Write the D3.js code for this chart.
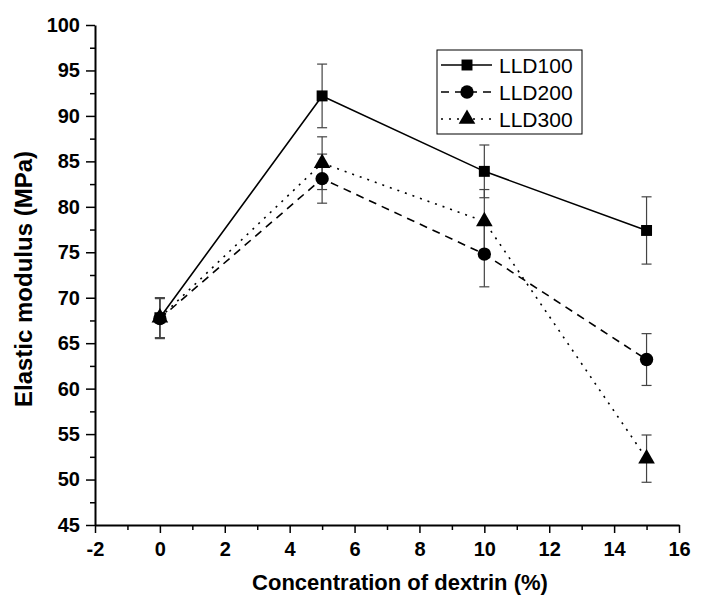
<!DOCTYPE html>
<html>
<head>
<meta charset="utf-8">
<script src="https://cdn.jsdelivr.net/npm/d3@7"></script>
<style>
  body { margin: 0; background: #fff; }
  text { font-family: "Liberation Sans", Arial, sans-serif; }
</style>
</head>
<body>
<div id="chart"></div>
<script>
// Datos
const concentration = [0, 5, 10, 15];
const seriesNames = ["LLD100", "LLD200", "LLD300"];
const lld100 = [67.8, 92.2, 83.9, 77.4];
const lld100Err = [2.2, 3.5, 2.9, 3.7];
const lld200 = [67.7, 83.1, 74.8, 63.2];
const lld200Err = [2.2, 2.7, 3.6, 2.85];
const lld300 = [67.8, 84.8, 78.4, 52.3];
const lld300Err = [2.2, 2.9, 3.5, 2.6];
const xTicks = [-2, 0, 2, 4, 6, 8, 10, 12, 14, 16];
const yTicks = [45, 50, 55, 60, 65, 70, 75, 80, 85, 90, 95, 100];

const W = 702, H = 598;
const margin = { top: 25, right: 23, bottom: 73, left: 95 };
const width = W - margin.left - margin.right;
const height = H - margin.top - margin.bottom;

const x = d3.scaleLinear().domain([-2, 16]).range([0, width]);
const y = d3.scaleLinear().domain([45, 100]).range([height, 0]);

const svg = d3.select("#chart").append("svg")
  .attr("width", W).attr("height", H);
const g = svg.append("g")
  .attr("transform", `translate(${margin.left},${margin.top})`);

// Ejes: ticks menores
g.append("g")
  .attr("transform", `translate(0,${height})`)
  .call(d3.axisBottom(x).tickValues(d3.range(-1, 17, 2)).tickSize(5).tickFormat(""))
  .call(a => a.select(".domain").remove())
  .selectAll("line").attr("stroke-width", 1.5);
g.append("g")
  .call(d3.axisLeft(y).tickValues(d3.range(47.5, 100, 5)).tickSize(5).tickFormat(""))
  .call(a => a.select(".domain").remove())
  .selectAll("line").attr("stroke-width", 1.5);

// Ejes principales (guion simple como en el original)
const xAxis = g.append("g")
  .attr("transform", `translate(0,${height})`)
  .call(d3.axisBottom(x).tickValues(xTicks).tickFormat(d => String(d))
    .tickSize(8).tickSizeOuter(0).tickPadding(9));
const yAxis = g.append("g")
  .call(d3.axisLeft(y).tickValues(yTicks).tickFormat(d => String(d))
    .tickSize(9).tickSizeOuter(0).tickPadding(6));
[xAxis, yAxis].forEach(a => {
  a.select(".domain").attr("stroke-width", 2);
  a.selectAll(".tick line").attr("stroke-width", 1.5);
  a.selectAll("text")
    .attr("font-size", 20).attr("font-weight", "bold")
    .attr("font-family", "'Liberation Sans', Arial, sans-serif")
    .attr("fill", "#000");
});

// Etiquetas de ejes
svg.append("text")
  .attr("x", 400).attr("y", 590)
  .attr("text-anchor", "middle")
  .attr("font-size", 22).attr("font-weight", "bold")
  .text("Concentration of dextrin (%)");
svg.append("text")
  .attr("transform", `translate(32,279) rotate(-90)`)
  .attr("text-anchor", "middle")
  .attr("font-size", 24).attr("font-weight", "bold")
  .text("Elastic modulus (MPa)");

const series = [
  { name: seriesNames[0], values: lld100, err: lld100Err, dash: null, symbol: d3.symbolSquare, size: 120 },
  { name: seriesNames[1], values: lld200, err: lld200Err, dash: "8,6", symbol: d3.symbolCircle, size: 140 },
  { name: seriesNames[2], values: lld300, err: lld300Err, dash: "2,6", symbol: d3.symbolTriangle, size: 120 }
];

// Barras de error
series.forEach(s => {
  const eg = g.append("g").attr("stroke", "#444").attr("stroke-width", 1.2);
  concentration.forEach((c, i) => {
    const cx = x(c);
    const lo = y(s.values[i] - s.err[i]);
    const hi = y(s.values[i] + s.err[i]);
    eg.append("line").attr("x1", cx).attr("x2", cx).attr("y1", lo).attr("y2", hi);
    eg.append("line").attr("x1", cx - 5).attr("x2", cx + 5).attr("y1", lo).attr("y2", lo);
    eg.append("line").attr("x1", cx - 5).attr("x2", cx + 5).attr("y1", hi).attr("y2", hi);
  });
});

// Líneas
const line = d3.line().x((d, i) => x(concentration[i])).y(d => y(d));
series.forEach(s => {
  g.append("path")
    .datum(s.values)
    .attr("fill", "none")
    .attr("stroke", "#000")
    .attr("stroke-width", 1.6)
    .attr("stroke-dasharray", s.dash)
    .attr("d", line);
});

// Marcadores
series.forEach(s => {
  g.selectAll(null)
    .data(s.values)
    .enter().append("path")
    .attr("d", d3.symbol().type(s.symbol).size(s.size))
    .attr("transform", (d, i) => `translate(${x(concentration[i])},${y(d)})`)
    .attr("fill", "#000");
});

// Leyenda
const lg = svg.append("g").attr("transform", "translate(437,50)");
lg.append("rect")
  .attr("width", 145).attr("height", 84)
  .attr("fill", "#fff").attr("stroke", "#000").attr("stroke-width", 1);
series.forEach((s, i) => {
  const ly = 15 + i * 27;
  lg.append("line")
    .attr("x1", 4).attr("x2", 55).attr("y1", ly).attr("y2", ly)
    .attr("stroke", "#000").attr("stroke-width", 1.6)
    .attr("stroke-dasharray", s.dash);
  lg.append("path")
    .attr("d", d3.symbol().type(s.symbol).size(s.size))
    .attr("transform", `translate(30,${ly})`)
    .attr("fill", "#000");
  lg.append("text")
    .attr("x", 62).attr("y", ly + 7.5)
    .attr("font-size", 21)
    .text(s.name);
});
</script>
</body>
</html>
